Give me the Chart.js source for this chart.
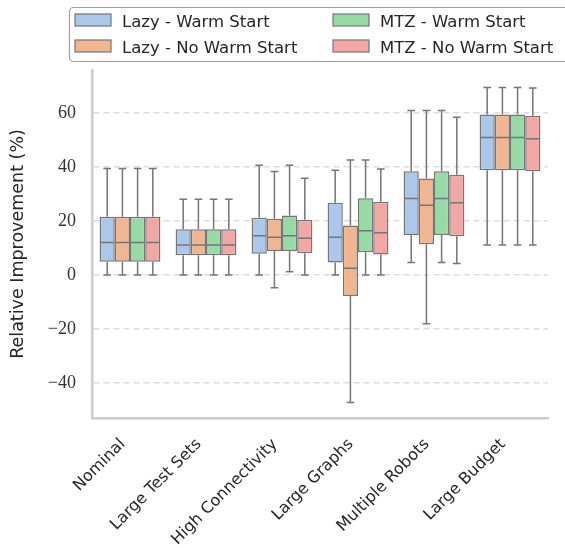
<!DOCTYPE html>
<html>
<head>
<meta charset="utf-8">
<script src="https://cdn.jsdelivr.net/npm/chart.js@4.4.1/dist/chart.umd.min.js"></script>
<style>
  html, body { margin: 0; padding: 0; background: #ffffff; }
  #wrap { width: 565px; height: 548px; }
</style>
</head>
<body>
<div id="wrap"><canvas id="c" width="565" height="548"></canvas></div>
<script>
// ---------- DATA ----------
const categories = ['Nominal', 'Large Test Sets', 'High Connectivity', 'Large Graphs', 'Multiple Robots', 'Large Budget'];
const seriesNames = ['Lazy - Warm Start', 'Lazy - No Warm Start', 'MTZ - Warm Start', 'MTZ - No Warm Start'];
// each entry: [min, q1, median, q3, max] per category
const lazyWarm = [
  [0, 4.9, 12.1, 21.6, 39.5],
  [0, 7.3, 11.1, 17.0, 28.1],
  [0, 7.9, 14.6, 21.2, 40.7],
  [0, 4.6, 14.0, 26.8, 38.8],
  [4.6, 14.8, 28.4, 38.5, 61.0],
  [11.1, 38.8, 51.0, 59.5, 69.5]
];
const lazyNoWarm = [
  [0, 4.9, 12.1, 21.6, 39.5],
  [0, 7.3, 11.1, 17.0, 28.1],
  [-4.7, 8.9, 14.0, 20.9, 38.4],
  [-47.3, -7.8, 2.5, 18.4, 42.6],
  [-18.1, 11.4, 25.9, 35.8, 61.0],
  [11.1, 38.8, 51.0, 59.5, 69.5]
];
const mtzWarm = [
  [0, 4.9, 12.1, 21.6, 39.5],
  [0, 7.3, 11.1, 17.0, 28.1],
  [1.2, 8.9, 14.6, 22.1, 40.7],
  [0, 8.4, 16.4, 28.5, 42.6],
  [4.6, 14.8, 28.4, 38.5, 61.0],
  [11.1, 38.8, 51.0, 59.5, 69.5]
];
const mtzNoWarm = [
  [0, 4.9, 12.1, 21.6, 39.5],
  [0, 7.3, 11.1, 17.0, 28.1],
  [0, 8.1, 13.6, 20.5, 35.9],
  [0, 7.6, 15.7, 27.2, 39.3],
  [4.3, 14.4, 26.8, 37.2, 58.5],
  [11.1, 38.5, 50.5, 59.0, 69.3]
];
const yTickValues = [-40, -20, 0, 20, 40, 60];
const yMin = -53;
const yMax = 76;

// ---------- STYLE ----------
const seriesStats = [lazyWarm, lazyNoWarm, mtzWarm, mtzNoWarm];
const fills = ['#abc8ec', '#f1b68f', '#96dba6', '#f2a7a5'];
const edge = '#767676';
const sans = '"DejaVu Sans", sans-serif';
const serif = '"Liberation Serif", "DejaVu Serif", serif';

const datasets = seriesStats.map((st, i) => ({
  label: seriesNames[i],
  data: st.map(s => [s[1], s[3]]),
  stats: st,
  backgroundColor: fills[i],
  borderColor: edge,
  borderWidth: 1.5,
  borderSkipped: false,
  categoryPercentage: 0.8,
  barPercentage: 1.0
}));

const boxPlugin = {
  id: 'boxWhiskers',
  afterDatasetsDraw(chart) {
    const ctx = chart.ctx;
    const y = chart.scales.y;
    chart.data.datasets.forEach((ds, i) => {
      const meta = chart.getDatasetMeta(i);
      meta.data.forEach((el, j) => {
        const st = ds.stats[j];
        const x = el.x, w = el.width;
        const pMin = y.getPixelForValue(st[0]);
        const pQ1 = y.getPixelForValue(st[1]);
        const pMed = y.getPixelForValue(st[2]);
        const pQ3 = y.getPixelForValue(st[3]);
        const pMax = y.getPixelForValue(st[4]);
        ctx.save();
        ctx.strokeStyle = edge;
        ctx.lineWidth = 1.5;
        ctx.beginPath();
        ctx.moveTo(x, pQ3); ctx.lineTo(x, pMax);
        ctx.moveTo(x - w / 4, pMax); ctx.lineTo(x + w / 4, pMax);
        ctx.moveTo(x, pQ1); ctx.lineTo(x, pMin);
        ctx.moveTo(x - w / 4, pMin); ctx.lineTo(x + w / 4, pMin);
        ctx.moveTo(x - w / 2 + 0.75, pMed); ctx.lineTo(x + w / 2 - 0.75, pMed);
        ctx.stroke();
        ctx.restore();
      });
    });
  }
};

const legendPlugin = {
  id: 'customLegend',
  afterDraw(chart) {
    const ctx = chart.ctx;
    ctx.save();
    const fx = 69.5, fy = 7.5, fw = 520, fh = 54, r = 4;
    ctx.beginPath();
    ctx.moveTo(fx + r, fy);
    ctx.lineTo(fx + fw - r, fy);
    ctx.arcTo(fx + fw, fy, fx + fw, fy + r, r);
    ctx.lineTo(fx + fw, fy + fh - r);
    ctx.arcTo(fx + fw, fy + fh, fx + fw - r, fy + fh, r);
    ctx.lineTo(fx + r, fy + fh);
    ctx.arcTo(fx, fy + fh, fx, fy + fh - r, r);
    ctx.lineTo(fx, fy + r);
    ctx.arcTo(fx, fy, fx + r, fy, r);
    ctx.closePath();
    ctx.fillStyle = 'rgba(255,255,255,0.9)';
    ctx.fill();
    ctx.strokeStyle = '#a0a0a0';
    ctx.lineWidth = 1.2;
    ctx.stroke();
    const cols = [75, 333];
    const rows = [20, 46];
    const order = [[0, 0], [1, 0], [0, 1], [1, 1]]; // [row, col]
    ctx.font = '16.5px ' + sans;
    ctx.textBaseline = 'middle';
    ctx.textAlign = 'left';
    chart.data.datasets.forEach((ds, i) => {
      const [ri, ci] = order[i];
      const sx = cols[ci], sy = rows[ri];
      ctx.fillStyle = ds.backgroundColor;
      ctx.fillRect(sx, sy - 6, 36, 12);
      ctx.strokeStyle = edge;
      ctx.lineWidth = 1.2;
      ctx.strokeRect(sx, sy - 6, 36, 12);
      ctx.fillStyle = '#262626';
      ctx.fillText(ds.label, sx + 47, sy + 2.5);
    });
    ctx.restore();
  }
};

new Chart(document.getElementById('c'), {
  type: 'bar',
  data: { labels: categories, datasets: datasets },
  plugins: [boxPlugin, legendPlugin],
  options: {
    responsive: false,
    animation: false,
    devicePixelRatio: 1,
    events: [],
    layout: { padding: { top: 70, right: 17, left: 0, bottom: 0 } },
    plugins: { legend: { display: false }, tooltip: { enabled: false } },
    scales: {
      x: {
        grid: { display: false },
        border: { display: true, color: '#cccccc', width: 2.5 },
        ticks: {
          color: '#262626',
          font: { family: sans, size: 16 },
          minRotation: 45,
          maxRotation: 45,
          padding: 9,
          labelOffset: -7
        },
        afterFit(s) { s.height = 130; }
      },
      y: {
        min: yMin,
        max: yMax,
        afterBuildTicks(s) { s.ticks = yTickValues.map(v => ({ value: v })); },
        grid: {
          color: '#dddddd',
          lineWidth: 1.5,
          drawTicks: false
        },
        border: { display: true, color: '#cccccc', width: 2.5, dash: [6, 4] },
        ticks: {
          color: '#333333',
          font: { family: serif, size: 18 },
          padding: 16,
          callback: v => String(v).replace('-', '\u2212')
        },
        title: {
          display: true,
          text: 'Relative Improvement (%)',
          color: '#262626',
          font: { family: sans, size: 17.5 },
          padding: { top: 8, bottom: 0 }
        },
        afterFit(s) { s.width = 92; }
      }
    }
  }
});
</script>
</body>
</html>
